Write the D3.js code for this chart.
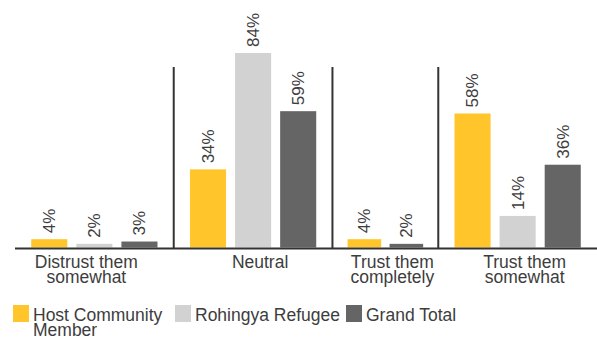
<!DOCTYPE html>
<html>
<head>
<meta charset="utf-8">
<script src="https://cdn.jsdelivr.net/npm/d3@7"></script>
<style>
  body { margin: 0; background: #fff; }
  text { font-family: "Liberation Sans", Arial, sans-serif; fill: #3d3d3d; }
</style>
</head>
<body>
<svg id="chart" width="597" height="338"></svg>
<script>
// categories and the series present in each
const categories = ["Distrust them somewhat", "Neutral", "Trust them completely", "Trust them somewhat"];
const catLines = [["Distrust them", "somewhat"], ["Neutral"], ["Trust them", "completely"], ["Trust them", "somewhat"]];
const seriesNames = ["Host Community Member", "Rohingya Refugee", "Grand Total"];
// values in %, null = no bar
const hostValues = [4, 34, 4, 58];
const rohingyaValues = [2, 84, null, 14];
const totalValues = [3, 59, 2, 36];

const colors = ["#ffc52b", "#d2d2d2", "#646564"];

const svg = d3.select("#chart");
const baseY = 248.5, left = 15, right = 597;

const allVals = [hostValues, rohingyaValues, totalValues];
const panels = categories.map((c, i) => {
  const bars = [];
  allVals.forEach((arr, s) => { if (arr[i] != null) bars.push({ s: s, v: arr[i] }); });
  return { cat: c, lines: catLines[i], bars: bars };
});

// panel widths follow number of bars
let cum = 0;
panels.forEach(p => { p.start = cum; cum += p.bars.length; p.end = cum; });
const xOuter = d3.scaleLinear().domain([0, cum]).range([left, right]);

const y = d3.scaleLinear().domain([0, 84]).range([baseY, 53]);

panels.forEach((p, i) => {
  const x0 = xOuter(p.start), x1 = xOuter(p.end);
  const xb = d3.scaleBand().domain(p.bars.map(b => b.s)).range([x0, x1])
    .paddingInner(0.2).paddingOuter(0.36);

  const g = svg.append("g");
  g.selectAll("rect").data(p.bars).join("rect")
    .attr("x", d => xb(d.s))
    .attr("width", xb.bandwidth())
    .attr("y", d => y(d.v))
    .attr("height", d => baseY - 1 - y(d.v))
    .attr("fill", d => colors[d.s]);

  g.selectAll(".val").data(p.bars).join("text")
    .attr("class", "val")
    .attr("transform", d => `translate(${xb(d.s) + xb.bandwidth() / 2},${y(d.v) - 6}) rotate(-90)`)
    .attr("dy", "0.35em")
    .attr("font-size", 17)
    .text(d => d.v + "%");

  // first label sits a bit left, the others a bit right of the panel centre
  const cx = (x0 + x1) / 2 + (i === 0 ? -8 : 7);
  const lbl = g.append("text")
    .attr("text-anchor", "middle")
    .attr("font-size", 17.5);
  p.lines.forEach((l, k) => {
    lbl.append("tspan").attr("x", cx).attr("y", 268 + k * 14.5).text(l);
  });

  if (i > 0) {
    svg.append("line")
      .attr("x1", x0).attr("x2", x0)
      .attr("y1", 67).attr("y2", baseY)
      .attr("stroke", "#333").attr("stroke-width", 2);
  }
});

// baseline
svg.append("line")
  .attr("x1", left).attr("x2", right)
  .attr("y1", baseY).attr("y2", baseY)
  .attr("stroke", "#333").attr("stroke-width", 2);

// legend
const legendX = [13, 175, 346];
const legendLines = [["Host Community", "Member"], ["Rohingya Refugee"], ["Grand Total"]];
seriesNames.forEach((s, i) => {
  svg.append("rect")
    .attr("x", legendX[i]).attr("y", 305)
    .attr("width", 16).attr("height", 17)
    .attr("fill", colors[i]);
  const t = svg.append("text").attr("font-size", 17.5);
  legendLines[i].forEach((l, k) => {
    t.append("tspan").attr("x", legendX[i] + 20).attr("y", 321 + k * 15).text(l);
  });
});
</script>
</body>
</html>
